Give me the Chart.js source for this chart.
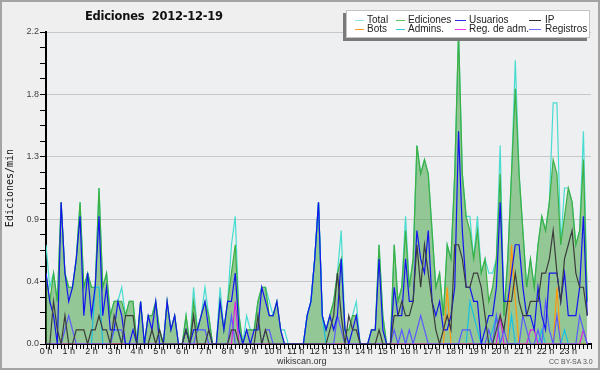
<!DOCTYPE html>
<html>
<head>
<meta charset="utf-8">
<script src="https://cdn.jsdelivr.net/npm/chart.js@4.4.0/dist/chart.umd.min.js"></script>
<style>
  html, body { margin: 0; padding: 0; background: #efefef; }
  #wrap { position: relative; width: 600px; height: 370px; overflow: hidden; }
  #c { position: absolute; left: 0; top: 0; }
  .txt { position: absolute; white-space: nowrap; }
  #title { left: 85px; top: 9px; font: bold 11.5px 'DejaVu Sans'; letter-spacing: -0.25px; color: #111; }
  #legend { position: absolute; left: 346px; top: 10px; width: 242px; height: 26px;
            background: #fff; border: 1px solid #c4c4c4; box-shadow: -3px 3px 0 #7a7a7a; }
  .sw { position: absolute; height: 1px; }
  .lt { position: absolute; font: 10px 'Liberation Sans'; line-height: 10px; color: #222; }
  #site { left: 277px; top: 356px; font: 9px 'Liberation Sans'; color: #333; }
  #lic { left: 549px; top: 358px; font: 7px 'Liberation Sans'; color: #555; }
</style>
</head>
<body>
<div id="wrap">
  <canvas id="c" width="600" height="370"></canvas>
  <div class="txt" id="title">Ediciones&nbsp;&nbsp;2012-12-19</div>
  <div id="legend"></div>
  <div class="txt" id="site">wikiscan.org</div>
  <div class="txt" id="lic">CC BY-SA 3.0</div>
</div>
<script>
// Ediciones/min por tramos de 10 minutos, 0 h -> 23 h 50
const minutos = Array.from({ length: 144 }, (_, i) => i * 10);

const total = [
  0.7,0.4,0.5,0.3,1.0,0.5, 0.4,0.4,0.6,1.0,0.4,0.5,
  0.4,0.4,1.1,0.4,0.5,0.2, 0.3,0.3,0.4,0.2,0.3,0.3,
  0,0.3,0,0.2,0.2,0.3, 0.1,0,0.3,0.1,0.2,0,
  0,0.2,0,0.4,0.1,0.2, 0.4,0.2,0,0,0.4,0.1,
  0.3,0.7,0.9,0.2,0,0.2, 0.1,0.1,0.3,0.4,0.4,0.3,
  0.2,0.3,0.1,0.1,0,0, 0,0,0,0.2,0.3,0.6,
  1.0,0.2,0.1,0.2,0.3,0.5, 0.8,0.1,0.1,0.2,0.3,0,
  0,0,0.1,0.1,0.7,0.2, 0,0,0.7,0.3,0.4,0.9,
  0.4,0.6,1.4,1.2,1.3,1.2, 0.8,0.4,0.5,0.2,0.7,0.6,
  1.2,2.2,1.2,0.9,0.9,0.6, 0.9,0.5,0.6,0.5,0.5,0.6,
  1.4,0.2,0.6,1.2,2.0,1.2, 0.8,0.4,0.6,0.4,0.7,0.9,
  0.8,1.0,1.7,1.7,0.7,1.1, 1.1,1.0,0.7,0.8,1.5,0.3
];
const ediciones = [
  0.5,0.3,0.5,0.3,1.0,0.5, 0.4,0.4,0.6,1.0,0.4,0.5,
  0.4,0.4,1.1,0.4,0.5,0.2, 0.3,0.3,0.3,0.2,0.3,0.3,
  0,0.3,0,0.2,0.2,0.3, 0.1,0,0.3,0.1,0.2,0,
  0,0.2,0,0.3,0.1,0.2, 0.3,0.2,0,0,0.3,0.1,
  0.3,0.5,0.7,0.2,0,0.1, 0.1,0.1,0.3,0.4,0.4,0.2,
  0.2,0.3,0.1,0,0,0, 0,0,0,0.2,0.3,0.6,
  1.0,0.2,0.1,0.2,0.3,0.5, 0.6,0.1,0.1,0.2,0.2,0,
  0,0,0.1,0.1,0.7,0.2, 0,0,0.7,0.3,0.4,0.8,
  0.4,0.6,1.4,1.2,1.3,1.2, 0.8,0.4,0.5,0.2,0.7,0.6,
  1.2,2.2,1.2,0.9,0.8,0.6, 0.8,0.5,0.6,0.3,0.4,0.6,
  1.2,0.2,0.6,1.2,1.8,1.2, 0.8,0.4,0.6,0.4,0.7,0.9,
  0.8,1.0,1.3,1.2,0.7,0.9, 1.1,1.0,0.7,0.8,1.3,0.3
];
const usuarios = [
  0.5,0.3,0.2,0,1.0,0.5, 0.3,0.4,0.6,0.9,0.2,0.5,
  0.2,0.4,0.9,0.2,0.4,0.1, 0.1,0.3,0.2,0,0,0.1,
  0,0.3,0,0.2,0.1,0.3, 0,0,0.3,0.1,0.2,0,
  0,0.1,0,0.1,0.1,0.2, 0.3,0.1,0,0,0.3,0.1,
  0.3,0.3,0.5,0.1,0,0.1, 0,0.1,0.1,0.4,0.3,0.2,
  0.2,0.3,0.1,0,0,0, 0,0,0,0.2,0.3,0.6,
  1.0,0.2,0.1,0.2,0.1,0.2, 0.6,0.1,0,0.1,0.2,0,
  0,0,0.1,0.1,0.6,0.1, 0,0,0.4,0.2,0.2,0.6,
  0.3,0.3,0.8,0.6,0.5,0.8, 0.3,0.2,0.3,0.1,0.1,0.2,
  0.4,1.5,0.8,0.4,0.4,0.3, 0.3,0,0.1,0.2,0.2,0.4,
  1.0,0.3,0.3,0.5,0.7,0.7, 0.4,0.2,0.2,0.1,0.4,0.2,
  0.1,0.5,0.5,0.5,0.3,0.5, 0.2,0.2,0.2,0.4,0.9,0.2
];
const ip = [
  0,0,0.3,0.1,0,0.2, 0,0,0.1,0.1,0.1,0,
  0.1,0.1,0.2,0.1,0.1,0, 0.2,0.1,0,0.2,0.2,0.2,
  0,0,0,0,0.1,0, 0.1,0,0,0,0,0,
  0,0.1,0,0.2,0,0, 0,0.1,0,0,0,0,
  0,0.1,0.1,0,0,0, 0,0,0.2,0,0.1,0,
  0,0,0,0,0,0, 0,0,0,0,0,0,
  0,0,0,0.1,0.2,0.5, 0.2,0,0.2,0.1,0.1,0,
  0,0,0,0,0.1,0, 0,0,0.2,0.2,0.3,0.2,
  0.2,0.3,0.7,0.4,0.7,0.5, 0.3,0.1,0,0.1,0.2,0.1,
  0.7,0.7,0.6,0.4,0.4,0.5, 0.5,0.4,0.2,0,0,0.1,
  0.2,0.1,0.3,0.3,0.5,0.3, 0.2,0.2,0.3,0.3,0.3,0.5,
  0.5,0.6,0.8,0.5,0.3,0.6, 0.7,0.8,0.5,0.4,0.4,0.2
];
const bots = [
  0,0,0,0,0,0, 0,0,0,0,0,0,
  0,0,0,0,0,0, 0,0,0,0,0,0,
  0,0,0,0,0,0, 0,0,0,0,0,0,
  0,0,0,0,0,0, 0,0,0,0,0,0,
  0,0,0,0,0,0, 0,0,0,0,0,0,
  0,0,0,0,0,0, 0,0,0,0,0,0,
  0,0,0,0,0,0, 0,0,0,0,0,0,
  0,0,0,0,0,0, 0,0,0,0,0,0,
  0,0,0,0,0,0, 0,0,0,0,0.4,0,
  0,0,0,0,0,0, 0,0,0,0,0,0,
  0,0,0,0.7,0.3,0, 0,0,0,0,0,0,
  0,0,0,0.4,0,0, 0,0,0,0,0,0
];
const admins = [
  0,0,0,0,0,0, 0,0,0,0,0,0,
  0,0.4,0.4,0,0,0, 0.1,0.1,0,0,0,0,
  0,0,0,0,0,0, 0,0,0,0,0,0,
  0,0,0,0,0,0, 0,0,0,0,0,0,
  0,0,0,0,0,0, 0,0,0,0,0,0,
  0,0,0,0,0,0, 0,0,0,0.2,0.3,0.6,
  1.0,0.2,0,0,0,0, 0,0,0,0,0,0,
  0,0,0,0,0,0, 0,0,0,0,0,0,
  0,0,0,0,0,0, 0,0,0,0,0,0,
  0,0,0,0,0.3,0.2, 0.1,0,0,0,0.1,0.2,
  0,0,0,0.2,0,0, 0,0,0,0,0,0.1,
  0,0,0,0,0,0.1, 0,0,0,0,0,0
];
const regAdm = [
  0,0,0,0,0,0, 0,0,0,0,0,0,
  0,0,0,0,0,0, 0,0,0,0,0,0,
  0,0,0,0,0,0, 0,0,0,0,0,0,
  0,0,0,0,0,0, 0,0,0,0,0,0,
  0,0,0.3,0,0,0, 0,0,0,0,0,0,
  0,0,0,0,0,0, 0,0,0,0,0,0,
  0,0,0,0,0,0, 0,0,0,0,0,0,
  0,0,0,0,0,0, 0,0,0,0,0,0,
  0,0,0,0,0,0, 0,0,0,0,0,0,
  0,0,0,0,0,0, 0,0,0,0,0,0,
  0.2,0,0,0,0,0, 0,0,0.1,0.1,0,0,
  0,0,0,0,0,0, 0,0,0,0,0.1,0
];
const registros = [
  0,0,0,0,0,0.1, 0.2,0.1,0,0,0,0,
  0,0,0,0,0,0, 0.1,0.1,0.1,0,0,0,
  0,0,0,0,0,0, 0,0,0,0,0,0,
  0,0,0,0,0.1,0.1, 0.1,0,0,0,0,0,
  0,0.2,0,0,0,0, 0,0,0,0,0.1,0.1,
  0,0,0,0,0,0, 0,0,0,0,0,0,
  0,0,0,0,0,0.2, 0.1,0,0,0,0,0,
  0,0,0,0,0,0, 0,0,0.1,0,0.1,0,
  0.1,0,0.1,0.2,0.1,0, 0,0,0,0,0,0,
  0,0,0.1,0.1,0.1,0, 0,0,0,0.1,0,0.2,
  0,0.1,0,0,0,0, 0.2,0.1,0,0,0.1,0,
  0.3,0.1,0,0.2,0,0, 0,0,0,0.2,0.1,0
];

// leyenda: [etiqueta, color, col, fila]
const leyenda = [
  ['Total', '#8ee6e0', 0, 0], ['Ediciones', '#5cc45c', 1, 0], ['Usuarios', '#2a2af0', 2, 0], ['IP', '#303030', 3, 0],
  ['Bots', '#ffa020', 0, 1], ['Admins.', '#30cfe0', 1, 1], ['Reg. de adm.', '#f030f0', 2, 1], ['Registros', '#6a6aff', 3, 1]
];
const colLinea = [[8, 9], [49, 9], [108, 11], [182, 12]];
const colTexto = [20, 61, 122, 198];

const legendEl = document.getElementById('legend');
leyenda.forEach(([txt, color, col, fila]) => {
  const sw = document.createElement('div');
  sw.className = 'sw';
  sw.style.left = colLinea[col][0] + 'px';
  sw.style.width = colLinea[col][1] + 'px';
  sw.style.top = (9 + fila * 9) + 'px';
  sw.style.background = color;
  legendEl.appendChild(sw);
  const t = document.createElement('div');
  t.className = 'lt';
  t.style.left = colTexto[col] + 'px';
  t.style.top = (4 + fila * 9) + 'px';
  t.textContent = txt;
  legendEl.appendChild(t);
});

function serie(label, valores, color, order, extra) {
  return Object.assign({
    label: label,
    data: minutos.map((m, i) => ({ x: m, y: valores[i] })),
    borderColor: color,
    borderWidth: 1.2,
    pointRadius: 0,
    tension: 0,
    fill: false,
    order: order
  }, extra || {});
}

const fondo = {
  id: 'fondo',
  beforeDraw(chart) {
    const { ctx, chartArea: a } = chart;
    ctx.save();
    ctx.fillStyle = '#efefef';
    ctx.fillRect(0, 0, chart.width, chart.height);
    ctx.fillStyle = '#edeff1';
    ctx.fillRect(a.left, a.top, a.right - a.left, a.bottom - a.top);
    ctx.restore();
  },
  afterDraw(chart) {
    const ctx = chart.ctx;
    ctx.save();
    ctx.strokeStyle = '#a4a4a4';
    ctx.lineWidth = 2;
    ctx.strokeRect(1, 1, chart.width - 2, chart.height - 2);
    ctx.restore();
  }
};

new Chart(document.getElementById('c'), {
  type: 'line',
  data: {
    datasets: [
      serie('Total', total, '#48dcd0', 8),
      serie('Ediciones', ediciones, '#3cb043', 7, { fill: 'origin', backgroundColor: 'rgba(60,160,60,0.5)' }),
      serie('Usuarios', usuarios, '#1414f0', 2),
      serie('IP', ip, '#3c3c3c', 1),
      serie('Bots', bots, '#ff9910', 5),
      serie('Admins.', admins, '#18c0e0', 6),
      serie('Reg. de adm.', regAdm, '#e020e0', 4),
      serie('Registros', registros, '#5a5aff', 3)
    ]
  },
  options: {
    responsive: false,
    animation: false,
    layout: { padding: { left: 2, top: 32, right: 9, bottom: 2 } },
    plugins: { legend: { display: false }, tooltip: { enabled: false } },
    scales: {
      x: {
        type: 'linear', min: 0, max: 1440,
        afterFit: s => { s.height = 24; },
        border: { color: '#000', width: 2 },
        grid: { drawOnChartArea: false, tickColor: '#000', tickLength: 5 },
        ticks: {
          stepSize: 10, autoSkip: false, maxRotation: 0, minRotation: 0, padding: -3,
          color: '#222', font: { family: 'Liberation Sans', size: 9 },
          callback: v => (v % 60 === 0 && v < 1440) ? (v / 60) + ' h' : ''
        }
      },
      y: {
        min: 0, max: 2.2,
        afterFit: s => { s.width = 44; },
        border: { color: '#000', width: 2 },
        grid: { color: c => c.index % 4 === 0 ? '#c8c8c8' : 'rgba(0,0,0,0)', tickColor: '#000', tickLength: 6 },
        ticks: {
          stepSize: 0.11, autoSkip: false, padding: 1,
          color: '#444', font: { family: 'Liberation Sans', size: 9 },
          callback: (v, i) => i % 4 === 0 ? v.toFixed(1) : ''
        },
        title: {
          display: true, text: 'Ediciones/min', color: '#111',
          font: { family: 'DejaVu Sans Mono', size: 10 }, padding: { top: 2, bottom: 0 }
        }
      }
    }
  },
  plugins: [fondo]
});
</script>
</body>
</html>
